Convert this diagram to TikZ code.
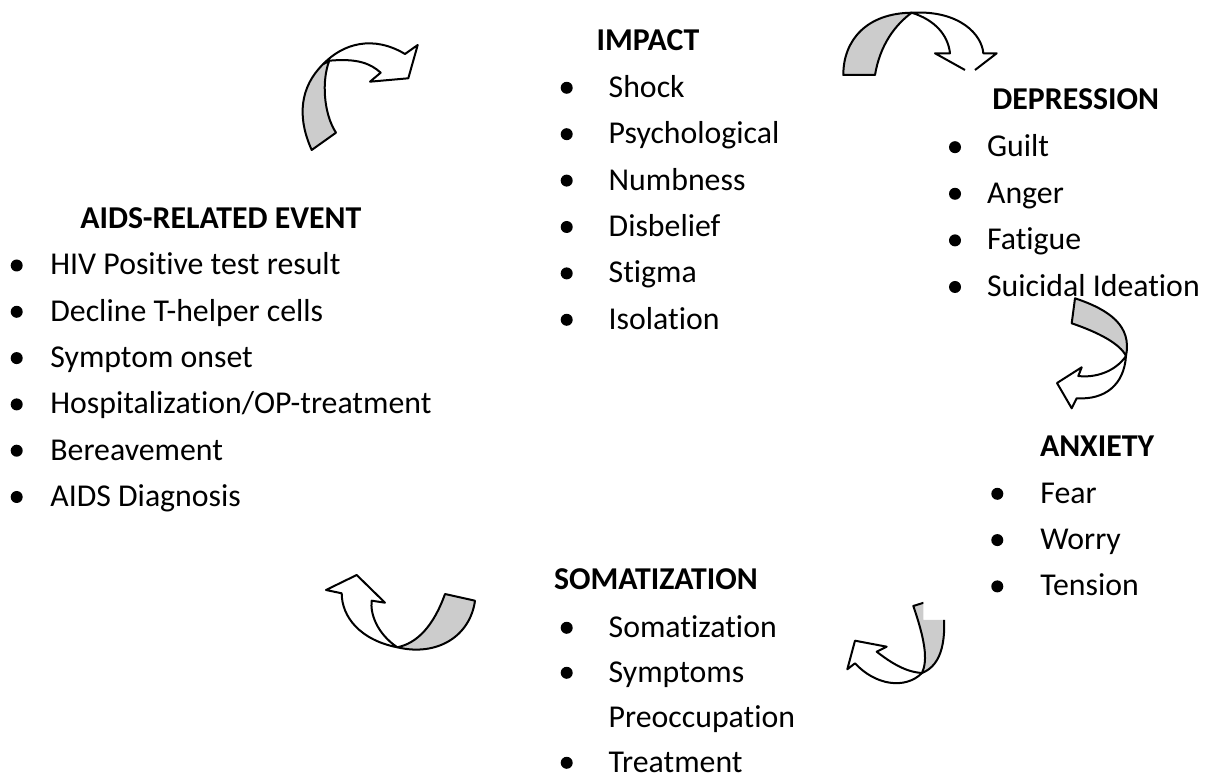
\documentclass[tikz,border=0pt]{standalone}
\usepackage{fontspec}
\setmainfont{Carlito}[Ligatures=NoCommon]
\tikzset{
  head/.style={font=\fontsize{15.9bp}{19bp}\selectfont\bfseries,inner sep=0pt,anchor=base},
  item/.style={font=\fontsize{15.9bp}{19bp}\selectfont,inner sep=0pt,anchor=base west},
  dot/.style={circle,fill=black,draw=none,inner sep=0pt,minimum size=6bp},
  backband/.style={fill=black!20,draw=black,line width=1bp,line join=round},
  frontband/.style={fill=white,draw=black,line width=1bp,line join=round},
}
\begin{document}
\begin{tikzpicture}[line join=bevel]
\useasboundingbox (0bp,0bp) rectangle (608bp,389bp);
%%
\node (event) at (110.4bp,274.85bp) [head] {AIDS-RELATED EVENT};
  \node (event_1) at (25bp,251.5bp) [item] {HIV Positive test result};
  \node (event_2) at (25bp,228.35bp) [item] {Decline T-helper cells};
  \node (event_3) at (25bp,205.2bp) [item] {Symptom onset};
  \node (event_4) at (25bp,182.05bp) [item] {Hospitalization/OP-treatment};
  \node (event_5) at (25bp,158.9bp) [item] {Bereavement};
  \node (event_6) at (25bp,135.75bp) [item] {AIDS Diagnosis};
  \node (dot_e1) at (8.35bp,256.25bp) [dot] {};
  \node (dot_e2) at (8.35bp,233.1bp) [dot] {};
  \node (dot_e3) at (8.35bp,209.95bp) [dot] {};
  \node (dot_e4) at (8.35bp,186.8bp) [dot] {};
  \node (dot_e5) at (8.35bp,163.65bp) [dot] {};
  \node (dot_e6) at (8.35bp,140.5bp) [dot] {};
%%
\node (impact) at (324bp,363.55bp) [head] {IMPACT};
  \node (impact_1) at (304.15bp,340.35bp) [item] {Shock};
  \node (impact_2) at (304.15bp,317.15bp) [item] {Psychological};
  \node (impact_3) at (304.15bp,293.95bp) [item] {Numbness};
  \node (impact_4) at (304.15bp,270.75bp) [item] {Disbelief};
  \node (impact_5) at (304.15bp,247.55bp) [item] {Stigma};
  \node (impact_6) at (304.15bp,224.35bp) [item] {Isolation};
  \node (dot_i1) at (283.35bp,345.1bp) [dot] {};
  \node (dot_i2) at (283.35bp,321.9bp) [dot] {};
  \node (dot_i3) at (283.35bp,298.7bp) [dot] {};
  \node (dot_i4) at (283.35bp,275.5bp) [dot] {};
  \node (dot_i5) at (283.35bp,252.3bp) [dot] {};
  \node (dot_i6) at (283.35bp,229.1bp) [dot] {};
%%
\node (depression) at (496bp,334bp) [head,anchor=base west] {DEPRESSION};
  \node (depression_1) at (493.35bp,310.65bp) [item] {Guilt};
  \node (depression_2) at (493.35bp,287.35bp) [item] {Anger};
  \node (depression_3) at (493.35bp,264.05bp) [item] {Fatigue};
  \node (depression_4) at (493.35bp,240.75bp) [item] {Suicidal Ideation};
  \node (dot_d1) at (477.5bp,315.4bp) [dot] {};
  \node (dot_d2) at (477.5bp,292.1bp) [dot] {};
  \node (dot_d3) at (477.5bp,268.8bp) [dot] {};
  \node (dot_d4) at (477.5bp,245.5bp) [dot] {};
%%
\node (anxiety) at (548.5bp,160.5bp) [head] {ANXIETY};
  \node (anxiety_1) at (520bp,137.35bp) [item] {Fear};
  \node (anxiety_2) at (520bp,114.2bp) [item] {Worry};
  \node (anxiety_3) at (520bp,91.05bp) [item] {Tension};
  \node (dot_a1) at (498.65bp,142.1bp) [dot] {};
  \node (dot_a2) at (498.65bp,118.95bp) [dot] {};
  \node (dot_a3) at (498.65bp,95.8bp) [dot] {};
%%
\node (somatization) at (328bp,94bp) [head] {SOMATIZATION};
  \node (somatization_1) at (304.15bp,70.35bp) [item] {Somatization};
  \node (somatization_2) at (304.15bp,47.85bp) [item] {Symptoms};
  \node (somatization_3) at (304.15bp,25.35bp) [item] {Preoccupation};
  \node (somatization_4) at (304.15bp,2.85bp) [item] {Treatment};
  \node (dot_s1) at (283.35bp,75.1bp) [dot] {};
  \node (dot_s2) at (283.35bp,52.6bp) [dot] {};
  \node (dot_s4) at (283.35bp,7.6bp) [dot] {};
%% curved arrows
% top left
\path [backband] (161.65bp,357bp) ..controls (150bp,345.65bp) and (148.35bp,330.65bp) .. (155.85bp,314bp)
  -- (168bp,322.65bp) ..controls (161.65bp,332.35bp) and (160.85bp,349bp) .. (164.65bp,358.65bp) -- cycle;
\path [frontband] (161.65bp,357bp) ..controls (171.65bp,367.35bp) and (186.65bp,371.5bp) .. (202.5bp,362bp)
  -- (208.85bp,366.5bp) -- (204.15bp,349.85bp) -- (185bp,348.15bp) -- (190.35bp,352.65bp)
  ..controls (185bp,357.5bp) and (178.35bp,359.85bp) .. (164.65bp,358.65bp) -- cycle;
% top right
\path [backband] (421.65bp,351.5bp) ..controls (421.65bp,369bp) and (433.35bp,382.35bp) .. (455.85bp,382.65bp)
  ..controls (447.5bp,376.5bp) and (440bp,366.5bp) .. (437.5bp,351.5bp) -- cycle;
\fill [white] (455.85bp,382.65bp) ..controls (480bp,384bp) and (491bp,371.5bp) .. (491.65bp,362.35bp)
  -- (498.35bp,362.35bp) -- (487.5bp,354bp) -- (482.5bp,354bp) -- (467.5bp,362.35bp) -- (475bp,362.35bp)
  ..controls (474bp,371.5bp) and (467.5bp,379bp) .. (455.85bp,382.65bp) -- cycle;
\draw [line width=1bp,line join=round] (487.5bp,354bp) -- (498.35bp,362.35bp) -- (491.65bp,362.35bp)
  ..controls (491bp,371.5bp) and (480bp,384bp) .. (455.85bp,382.65bp)
  ..controls (467.5bp,379bp) and (474bp,371.5bp) .. (475bp,362.35bp) -- (467.5bp,362.35bp) -- (482.5bp,354bp);
% right
\path [backband] (537.5bp,239.85bp) ..controls (555bp,234bp) and (566bp,226bp) .. (563bp,211bp)
  ..controls (560bp,217bp) and (550bp,222.5bp) .. (535.85bp,227.35bp) -- cycle;
\path [frontband] (563bp,211bp) ..controls (562bp,196.5bp) and (552.5bp,189bp) .. (538.35bp,189.85bp)
  -- (535.85bp,184.85bp) -- (528.5bp,197.5bp) -- (540.85bp,205.35bp) -- (539.15bp,201bp)
  ..controls (547.5bp,200bp) and (557.5bp,203bp) .. (563bp,211bp) -- cycle;
% bottom right
\begin{scope}
\clip (0bp,0bp) rectangle (461.65bp,389bp) (461.65bp,0bp) rectangle (608bp,79bp);
\path [backband] (456.65bp,86bp) ..controls (462.5bp,69bp) and (464bp,59bp) .. (461bp,52.5bp)
  ..controls (471bp,56.5bp) and (474bp,69bp) .. (471bp,90.5bp) -- cycle;
\end{scope}
\path [frontband] (461bp,52.5bp) ..controls (452.5bp,53bp) and (445bp,58bp) .. (438.35bp,63.15bp)
  -- (443.35bp,65.65bp) -- (427.5bp,68.65bp) -- (423.65bp,54.35bp) -- (427.5bp,57.35bp)
  ..controls (437.5bp,46.5bp) and (452.5bp,44bp) .. (461bp,52.5bp) -- cycle;
% bottom left
\path [backband] (237.5bp,88.65bp) ..controls (235bp,70.65bp) and (218.35bp,60.65bp) .. (198.65bp,65.35bp)
  ..controls (208.35bp,67.35bp) and (216.65bp,75.65bp) .. (222.5bp,92bp) -- cycle;
\path [frontband] (198.65bp,65.35bp) ..controls (180bp,69bp) and (170.85bp,80.65bp) .. (170.85bp,92.35bp)
  -- (163bp,94bp) -- (178.35bp,101.5bp) -- (192.5bp,87.65bp) -- (185.85bp,88.65bp)
  ..controls (185bp,82.35bp) and (188.35bp,72.35bp) .. (198.65bp,65.35bp) -- cycle;
%
\end{tikzpicture}
\end{document}
